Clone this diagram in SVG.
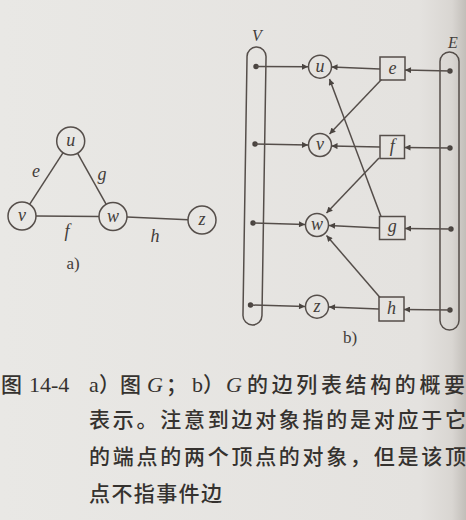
<svg xmlns="http://www.w3.org/2000/svg" width="466" height="520" viewBox="0 0 466 520">
<defs>
<linearGradient id="bg" x1="0" y1="0" x2="1" y2="0">
<stop offset="0" stop-color="#e9e8e5"/>
<stop offset="0.9" stop-color="#e4e2df"/>
<stop offset="0.97" stop-color="#d9d6d2"/>
<stop offset="1" stop-color="#c2beb9"/>
</linearGradient>
<marker id="ah" viewBox="0 0 10 10" refX="10" refY="5" markerWidth="9" markerHeight="6" markerUnits="userSpaceOnUse" orient="auto">
<path d="M0,0 L10,5 L0,10 z" fill="#4a4440"/>
</marker>
<style>
.ln{stroke:#554e4a;stroke-width:1.5;fill:none}
.ar{stroke:#554e4a;stroke-width:1.5;fill:none;marker-end:url(#ah)}
.nd{stroke:#554e4a;stroke-width:1.5;fill:none}
.dot{fill:#4a4440}
.lbl{font-family:"Liberation Serif",serif;font-style:italic;font-size:18px;fill:#433d3a;text-anchor:middle;dominant-baseline:central}
.sub{font-family:"Liberation Serif","Noto Sans CJK SC",serif;font-size:17px;fill:#433d3a;text-anchor:middle}
.cap{font-family:"Noto Sans CJK SC",sans-serif;font-size:21px;font-weight:500;fill:#35322f}
.ser{font-family:"Liberation Serif","Noto Sans CJK SC",serif;font-size:22px;fill:#35322f}
.it{font-family:"Liberation Serif",serif;font-style:italic;font-size:22px;fill:#35322f}
</style>
</defs>
<rect x="0" y="0" width="466" height="520" fill="url(#bg)"/>

<!-- Part a -->
<g id="a-u"><circle class="nd" cx="70.7" cy="141" r="14"/><text class="lbl" x="70.7" y="140">u</text></g>
<g id="a-v"><circle class="nd" cx="22" cy="216" r="14"/><text class="lbl" x="22" y="215">v</text></g>
<g id="a-w"><circle class="nd" cx="113" cy="216.5" r="14"/><text class="lbl" x="113" y="215.5">w</text></g>
<g id="a-z"><circle class="nd" cx="202" cy="220" r="14"/><text class="lbl" x="202" y="219">z</text></g>
<g id="a-edges">
<line class="ln" x1="63.1" y1="152.7" x2="29.6" y2="204.3"/>
<line class="ln" x1="77.5" y1="153.2" x2="106.2" y2="204.3"/>
<line class="ln" x1="36" y1="216" x2="99" y2="216.5"/>
<line class="ln" x1="127" y1="217" x2="188" y2="219.7"/>
</g>
<g id="a-labels">
<text class="lbl" x="36" y="171">e</text>
<text class="lbl" x="102" y="174">g</text>
<text class="lbl" x="67" y="231">f</text>
<text class="lbl" x="155" y="236">h</text>
<text class="sub" x="73" y="269">a)</text>
</g>

<!-- Part b -->
<g id="V">
<rect class="nd" x="245" y="47" width="19" height="278" rx="9.5" transform="rotate(0.9 254.5 186)"/>
<text class="lbl" x="257" y="35" style="font-size:16px">V</text>
<circle class="dot" cx="256" cy="66.5" r="2.7"/>
<circle class="dot" cx="255" cy="144" r="2.7"/>
<circle class="dot" cx="253" cy="223" r="2.7"/>
<circle class="dot" cx="250.5" cy="305" r="2.7"/>
</g>
<g id="E">
<rect class="nd" x="440" y="52" width="19" height="278" rx="9.5"/>
<text class="lbl" x="453" y="42" style="font-size:16px">E</text>
<circle class="dot" cx="450" cy="71" r="2.7"/>
<circle class="dot" cx="450" cy="148" r="2.7"/>
<circle class="dot" cx="451" cy="229" r="2.7"/>
<circle class="dot" cx="450" cy="310" r="2.7"/>
</g>
<g id="u"><circle class="nd" cx="320" cy="66.7" r="11.5"/><text class="lbl" x="320" y="65.5">u</text></g>
<g id="v"><circle class="nd" cx="320" cy="145" r="11.5"/><text class="lbl" x="320" y="144">v</text></g>
<g id="w"><circle class="nd" cx="317" cy="225" r="11.5"/><text class="lbl" x="317" y="224">w</text></g>
<g id="z"><circle class="nd" cx="317" cy="306.7" r="11.5"/><text class="lbl" x="317" y="305.5">z</text></g>
<g id="e"><rect class="nd" x="380" y="57" width="25" height="23"/><text class="lbl" x="392.5" y="67.5">e</text></g>
<g id="f"><rect class="nd" x="380" y="135.5" width="24.5" height="23"/><text class="lbl" x="392.2" y="146">f</text></g>
<g id="g"><rect class="nd" x="379.5" y="216.5" width="25.5" height="23"/><text class="lbl" x="392.2" y="226">g</text></g>
<g id="h"><rect class="nd" x="379" y="297" width="25" height="24"/><text class="lbl" x="391.5" y="308">h</text></g>
<g id="connectors">
<line class="ar" x1="256" y1="66.5" x2="308" y2="66.7"/>
<line class="ar" x1="380" y1="69" x2="331.5" y2="67"/>
<line class="ar" x1="450" y1="71" x2="405" y2="70"/>
<line class="ar" x1="255" y1="144" x2="308" y2="145"/>
<line class="ar" x1="380" y1="147" x2="331.5" y2="146"/>
<line class="ar" x1="450" y1="148" x2="404.5" y2="147.5"/>
<line class="ar" x1="253" y1="223" x2="305" y2="224.5"/>
<line class="ar" x1="379.5" y1="228" x2="329" y2="225.5"/>
<line class="ar" x1="451" y1="229" x2="405" y2="228.5"/>
<line class="ar" x1="250.5" y1="305" x2="305" y2="306.5"/>
<line class="ar" x1="379" y1="309" x2="329" y2="307"/>
<line class="ar" x1="450" y1="310" x2="404" y2="309.5"/>
<line class="ar" x1="381.5" y1="79.5" x2="329.5" y2="134"/>
<line class="ar" x1="381" y1="216.5" x2="329.5" y2="79"/>
<line class="ar" x1="379" y1="158" x2="326.5" y2="213"/>
<line class="ar" x1="380" y1="297.5" x2="326.5" y2="235.5"/>
</g>
<text class="sub" x="350" y="343">b)</text>

<!-- Caption -->
<g id="caption">
<text class="cap" x="1" y="392">图</text>
<text class="ser" x="29" y="392">14-4</text>
<text class="ser" x="89" y="392">a</text>
<text class="cap" x="99" y="392">）图</text>
<text class="it" x="147" y="392">G</text>
<text class="cap" x="166" y="392">；</text>
<text class="ser" x="192" y="392">b</text>
<text class="cap" x="203" y="392">）</text>
<text class="it" x="226" y="392">G</text>
<text class="cap" x="247" y="392" textLength="218" lengthAdjust="spacing">的边列表结构的概要</text>
<text class="cap" x="89" y="427" textLength="377" lengthAdjust="spacing">表示。注意到边对象指的是对应于它</text>
<text class="cap" x="89" y="464" textLength="377" lengthAdjust="spacing">的端点的两个顶点的对象，但是该顶</text>
<text class="cap" x="89" y="501" textLength="133" lengthAdjust="spacing">点不指事件边</text>
</g>
</svg>
